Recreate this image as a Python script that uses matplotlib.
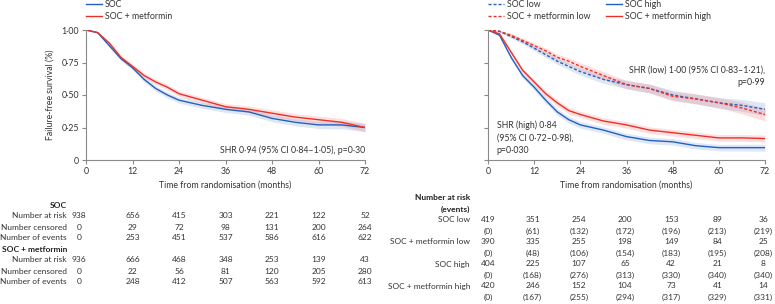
import matplotlib

matplotlib.use("Agg")
import matplotlib.pyplot as plt  # noqa: E402
from matplotlib.lines import Line2D  # noqa: E402
import numpy as np  # noqa: E402

plt.rcParams["font.family"] = ["Lato", "DejaVu Sans"]
FS = 6.0
plt.rcParams["font.size"] = FS

BLUE = "#2460c0"
RED = "#ec3029"
TXT = "#333333"
AX = "#8a8a8a"

# time points (months) the curves were read at
t = [0, 3, 6, 9, 12, 15, 18, 21, 24, 30, 36, 42, 48, 54, 60, 66, 72]

# left panel, overall
soc = [1.0, 0.98, 0.88, 0.78, 0.71, 0.62, 0.55, 0.50, 0.46, 0.42, 0.39, 0.37, 0.32, 0.29, 0.27, 0.27, 0.25]
met = [1.0, 0.98, 0.90, 0.79, 0.72, 0.65, 0.60, 0.56, 0.51, 0.46, 0.41, 0.39, 0.36, 0.33, 0.31, 0.29, 0.25]
ci_all = [0.0, 0.006, 0.012, 0.016, 0.018, 0.02, 0.021, 0.022, 0.022, 0.023, 0.024, 0.025, 0.026, 0.027, 0.028, 0.03, 0.032]

# right panel, by risk group
soc_low = [1.0, 0.99, 0.95, 0.91, 0.86, 0.81, 0.76, 0.72, 0.68, 0.62, 0.58, 0.55, 0.50, 0.47, 0.44, 0.42, 0.39]
met_low = [1.0, 0.99, 0.96, 0.92, 0.88, 0.84, 0.79, 0.76, 0.72, 0.65, 0.58, 0.55, 0.49, 0.47, 0.44, 0.40, 0.35]
soc_high = [1.0, 0.96, 0.79, 0.65, 0.56, 0.46, 0.37, 0.31, 0.27, 0.23, 0.18, 0.15, 0.14, 0.11, 0.095, 0.095, 0.095]
met_high = [1.0, 0.97, 0.83, 0.69, 0.60, 0.51, 0.44, 0.38, 0.35, 0.30, 0.27, 0.23, 0.21, 0.19, 0.17, 0.17, 0.165]
ci_low = [0.0, 0.006, 0.012, 0.016, 0.02, 0.022, 0.024, 0.026, 0.028, 0.03, 0.032, 0.034, 0.036, 0.038, 0.04, 0.045, 0.05]
ci_high = [0.0, 0.008, 0.016, 0.02, 0.022, 0.024, 0.025, 0.025, 0.025, 0.025, 0.025, 0.025, 0.025, 0.025, 0.025, 0.026, 0.027]

xticks = [0, 12, 24, 36, 48, 60, 72]
yticks = [0, 0.25, 0.5, 0.75, 1.0]
ytick_labels = ["0", "0·25", "0·50", "0·75", "1·00"]

# at-risk table, left
left_groups = ["SOC", "SOC + metformin"]
left_rows = ["Number at risk", "Number censored", "Number of events"]
soc_table = [
    [938, 656, 415, 303, 221, 122, 52],
    [0, 29, 72, 98, 131, 200, 264],
    [0, 253, 451, 537, 586, 616, 622],
]
met_table = [
    [936, 666, 468, 348, 253, 139, 43],
    [0, 22, 56, 81, 120, 205, 280],
    [0, 248, 412, 507, 563, 592, 613],
]

# at-risk table, right: (at risk, events)
right_groups = ["SOC low", "SOC + metformin low", "SOC high", "SOC + metformin high"]
right_risk = [
    [419, 351, 254, 200, 153, 89, 36],
    [390, 335, 255, 198, 149, 84, 25],
    [404, 225, 107, 65, 42, 21, 8],
    [420, 246, 152, 104, 73, 41, 14],
]
right_events = [
    [0, 61, 132, 172, 196, 213, 219],
    [0, 48, 106, 154, 183, 195, 208],
    [0, 168, 276, 313, 330, 340, 340],
    [0, 167, 255, 294, 317, 329, 331],
]

W, H = 775, 304
fig = plt.figure(figsize=(W / 100, H / 100), dpi=100)


def fx(px):
    return px / W


def fy(py):
    return 1 - py / H


def style_axes(ax, ylabels=True):
    ax.set_xlim(0, 72)
    ax.set_ylim(0, 1.0)
    ax.set_xticks(xticks)
    ax.set_yticks(yticks)
    ax.set_yticklabels(ytick_labels if ylabels else [])
    for s in ("top", "right"):
        ax.spines[s].set_visible(False)
    for s in ("left", "bottom"):
        ax.spines[s].set_color(AX)
        ax.spines[s].set_linewidth(0.8)
    ax.tick_params(colors=AX, labelcolor=TXT, length=3, width=0.8, pad=2, labelsize=6.3)


def band(ax, y, ci, color, ls="-"):
    y = np.asarray(y)
    ci = np.asarray(ci)
    ax.fill_between(t, y - ci, y + ci, color=color, alpha=0.15, lw=0)
    ax.plot(t, y, color=color, lw=1.0, ls=ls)


axL = fig.add_axes([fx(86), fy(160), fx(365 - 86), (160 - 30) / H])
axR = fig.add_axes([fx(488), fy(160), fx(765 - 488), (160 - 30) / H])
style_axes(axL)
style_axes(axR, ylabels=False)

band(axL, soc, ci_all, BLUE)
band(axL, met, ci_all, RED)

dash = (0, (2.2, 1.4))
band(axR, soc_low, ci_low, BLUE, ls=dash)
band(axR, met_low, ci_low, RED, ls=dash)
band(axR, soc_high, ci_high, BLUE)
band(axR, met_high, ci_high, RED)

fig.text(fx(50), fy(95), "Failure-free survival (%)", rotation=90, ha="center", va="center",
         color=TXT, fontsize=6.3)
for ax in (axL, axR):
    pos = ax.get_position()
    fig.text((pos.x0 + pos.x1) / 2, fy(185), "Time from randomisation (months)",
             ha="center", va="center", color=TXT, fontsize=6.3)

# legends
legL = axL.legend(
    [Line2D([], [], color=BLUE, lw=1.0), Line2D([], [], color=RED, lw=1.0)],
    ["SOC", "SOC + metformin"],
    loc="lower left", bbox_to_anchor=(0, 1.07), frameon=False, borderpad=0,
    borderaxespad=0, handlelength=1.8, handletextpad=0.35, labelspacing=0.3, fontsize=6.3,
)
legR = axR.legend(
    [Line2D([], [], color=BLUE, lw=1.0, ls=dash), Line2D([], [], color=RED, lw=1.0, ls=dash),
     Line2D([], [], color=BLUE, lw=1.0), Line2D([], [], color=RED, lw=1.0)],
    ["SOC low", "SOC + metformin low", "SOC high", "SOC + metformin high"],
    ncol=2, loc="lower left", bbox_to_anchor=(0, 1.07), frameon=False, borderpad=0,
    borderaxespad=0, handlelength=1.8, handletextpad=0.35, labelspacing=0.3,
    columnspacing=1.8, fontsize=6.3,
)
for leg in (legL, legR):
    for txt in leg.get_texts():
        txt.set_color(TXT)

# annotations
axL.text(72, 0.077, "SHR 0·94 (95% CI 0·84–1·05), p=0·30", ha="right", va="center",
         color=TXT, fontsize=6.3)
axR.text(72, 0.646, "SHR (low) 1·00 (95% CI 0·83–1·21),\np=0·99", ha="right", va="center",
         multialignment="right", color=TXT, fontsize=6.3, linespacing=1.5)
axR.text(2.3, 0.17, "SHR (high) 0·84\n(95% CI 0·72–0·98),\np=0·030", ha="left", va="center",
         color=TXT, fontsize=6.3, linespacing=1.5)


def cell(ax, x, py, s):
    # py is a pixel row in the figure; convert to axes fraction below the x axis
    ax.text(x, (160 - py) / 130, s, transform=ax.get_xaxis_transform(), ha="center",
            va="center", color=TXT, fontsize=FS, clip_on=False)


def label(px, py, s, bold=False):
    fig.text(fx(px), fy(py), s, ha="right", va="center",
             color="#222222" if bold else TXT, fontweight="bold" if bold else "normal",
             fontsize=FS)


# number at risk tables
step = 11.0
colsL = [-1.8] + xticks[1:]
y = 205
for group, table in zip(left_groups, [soc_table, met_table]):
    label(67, y, group, bold=True)
    y += step
    for name, vals in zip(left_rows, table):
        label(67, y, name)
        for c, v in zip(colsL, vals):
            cell(axL, c, y, str(v))
        y += step

colsR = [0] + [x - 0.4 for x in xticks[1:]]
y = 198
label(470, y, "Number at risk", bold=True)
y += step
label(470, y, "(events)", bold=True)
y += step
for name, risk, ev in zip(right_groups, right_risk, right_events):
    label(470, y, name)
    for c, v in zip(colsR, risk):
        cell(axR, c, y, str(v))
    y += step
    for c, v in zip(colsR, ev):
        cell(axR, c, y, f"({v})")
    y += step

fig.savefig("out.png", dpi=100, facecolor="white")
